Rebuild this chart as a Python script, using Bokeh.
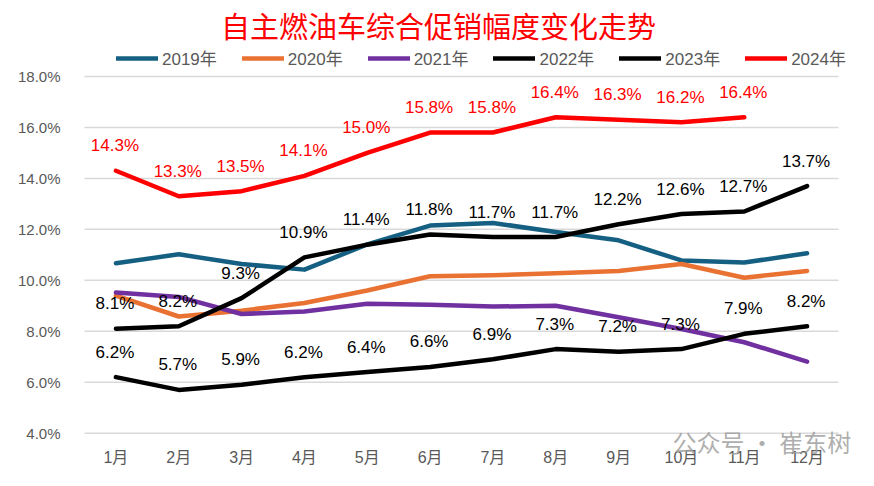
from bokeh.plotting import figure
from bokeh.models import ColumnDataSource, Range1d, FixedTicker, PrintfTickFormatter, Legend, LegendItem, Label
from bokeh.embed import file_html
from bokeh.resources import INLINE
from bokeh.core.properties import value

months = list(range(1, 13))
month_labels = [f"{m}月" for m in months]
years = ["2019年", "2020年", "2021年", "2022年", "2023年", "2024年"]
s2019 = [10.67, 11.02, 10.64, 10.42, 11.41, 12.15, 12.25, 11.9, 11.57, 10.78, 10.7, 11.06]
s2020 = [9.4, 8.58, 8.81, 9.11, 9.6, 10.16, 10.2, 10.28, 10.37, 10.64, 10.1, 10.37]
s2021 = [9.52, 9.35, 8.68, 8.78, 9.08, 9.04, 8.97, 9.0, 8.55, 8.09, 7.57, 6.81]
s2022 = [6.2, 5.7, 5.9, 6.2, 6.4, 6.6, 6.9, 7.3, 7.2, 7.3, 7.9, 8.2]
s2023 = [8.1, 8.2, 9.3, 10.9, 11.4, 11.8, 11.7, 11.7, 12.2, 12.6, 12.7, 13.7]
s2024 = [14.3, 13.3, 13.5, 14.1, 15.0, 15.8, 15.8, 16.4, 16.3, 16.2, 16.4]
y_ticks = [4, 6, 8, 10, 12, 14, 16, 18]
title_text = "自主燃油车综合促销幅度变化走势"
watermark = "公众号 · 崔东树"

series = [s2019, s2020, s2021, s2022, s2023, s2024]
colors = ["#156082", "#E97132", "#7030A0", "#000000", "#000000", "#FF0000"]
labeled = [False, False, False, True, True, True]

FONT = "Liberation Sans, Noto Sans CJK SC"

# layout (pixels): plot area spans x 84..838, y(18%)=76 .. y(4%)=432.7
W, H = 858, 470
PX_L, PX_R = 84.0, 838.0
PY_TOP, PY_BOT = 76.0, 432.7
ux = (PX_R - PX_L) / 12.0
uy = (PY_BOT - PY_TOP) / 14.0
x0 = 0.5 - PX_L / ux
x1 = 12.5 + (W - PX_R) / ux
y1 = 18 + PY_TOP / uy
y0 = 4 - (H - PY_BOT) / uy

p = figure(width=W, height=H, output_backend="svg", toolbar_location=None,
           x_range=Range1d(x0, x1), y_range=Range1d(y0, y1),
           min_border=0)
p.outline_line_color = None
p.background_fill_color = "white"
p.border_fill_color = "white"

p.xgrid.visible = False
p.ygrid.visible = False

# horizontal gridlines across the category area
p.segment(x0=[0.5] * len(y_ticks), x1=[12.5] * len(y_ticks), y0=y_ticks, y1=y_ticks,
          line_color="#d9d9d9", line_width=1.5)

p.yaxis.fixed_location = 0.5
p.xaxis.fixed_location = 4
p.yaxis.ticker = FixedTicker(ticks=y_ticks)
p.yaxis.formatter = PrintfTickFormatter(format="%.1f%%")
p.xaxis.ticker = FixedTicker(ticks=months)
p.xaxis.major_label_overrides = {m: l for m, l in zip(months, month_labels)}
for ax in (p.xaxis, p.yaxis):
    ax.axis_line_color = None
    ax.major_tick_line_color = None
    ax.minor_tick_line_color = None
    ax.major_label_text_color = "#595959"
    ax.major_label_text_font = FONT
p.yaxis.major_label_text_font_size = "15px"
p.yaxis.major_label_standoff = 18
p.xaxis.major_label_text_font_size = "16px"
p.xaxis.major_label_standoff = 10

items = []
for name, vals, col in zip(years, series, colors):
    xs = months[:len(vals)]
    src = ColumnDataSource(dict(x=xs, y=vals))
    r = p.line("x", "y", source=src, line_color=col, line_width=4.5,
               line_join="round", line_cap="round")
    items.append(LegendItem(label=name, renderers=[r]))

for name, vals, col, lab in zip(years, series, colors, labeled):
    if not lab:
        continue
    xs = months[:len(vals)]
    src = ColumnDataSource(dict(x=xs, y=vals, t=[f"{v:.1f}%" for v in vals]))
    p.text("x", "y", text="t", source=src, text_color=col, text_font=value(FONT),
           text_font_size="17px", text_align="center", text_baseline="middle",
           x_offset=-1, y_offset=-25)

legend = Legend(items=items, orientation="horizontal", location=(116, H - 70),
                glyph_width=42, glyph_height=20, label_standoff=4, spacing=25,
                padding=0, margin=0, border_line_color=None, background_fill_alpha=0,
                label_text_font=FONT, label_text_font_size="17px", label_text_color="#595959",
                label_height=20)
p.add_layout(legend, "center")

p.add_layout(Label(x=438, y=H - 24, x_units="screen", y_units="screen", text=title_text,
                   text_font="Noto Sans CJK SC", text_font_size="29px", text_color="#FF0000",
                   text_align="center", text_baseline="middle"))
p.add_layout(Label(x=672, y=H - 441, x_units="screen", y_units="screen", text=watermark,
                   text_font="Noto Sans CJK SC", text_font_size="24px", text_color="#a0a0a0",
                   text_alpha=0.85, text_align="left", text_baseline="middle"))

open("out.html", "w").write(file_html(p, INLINE))
